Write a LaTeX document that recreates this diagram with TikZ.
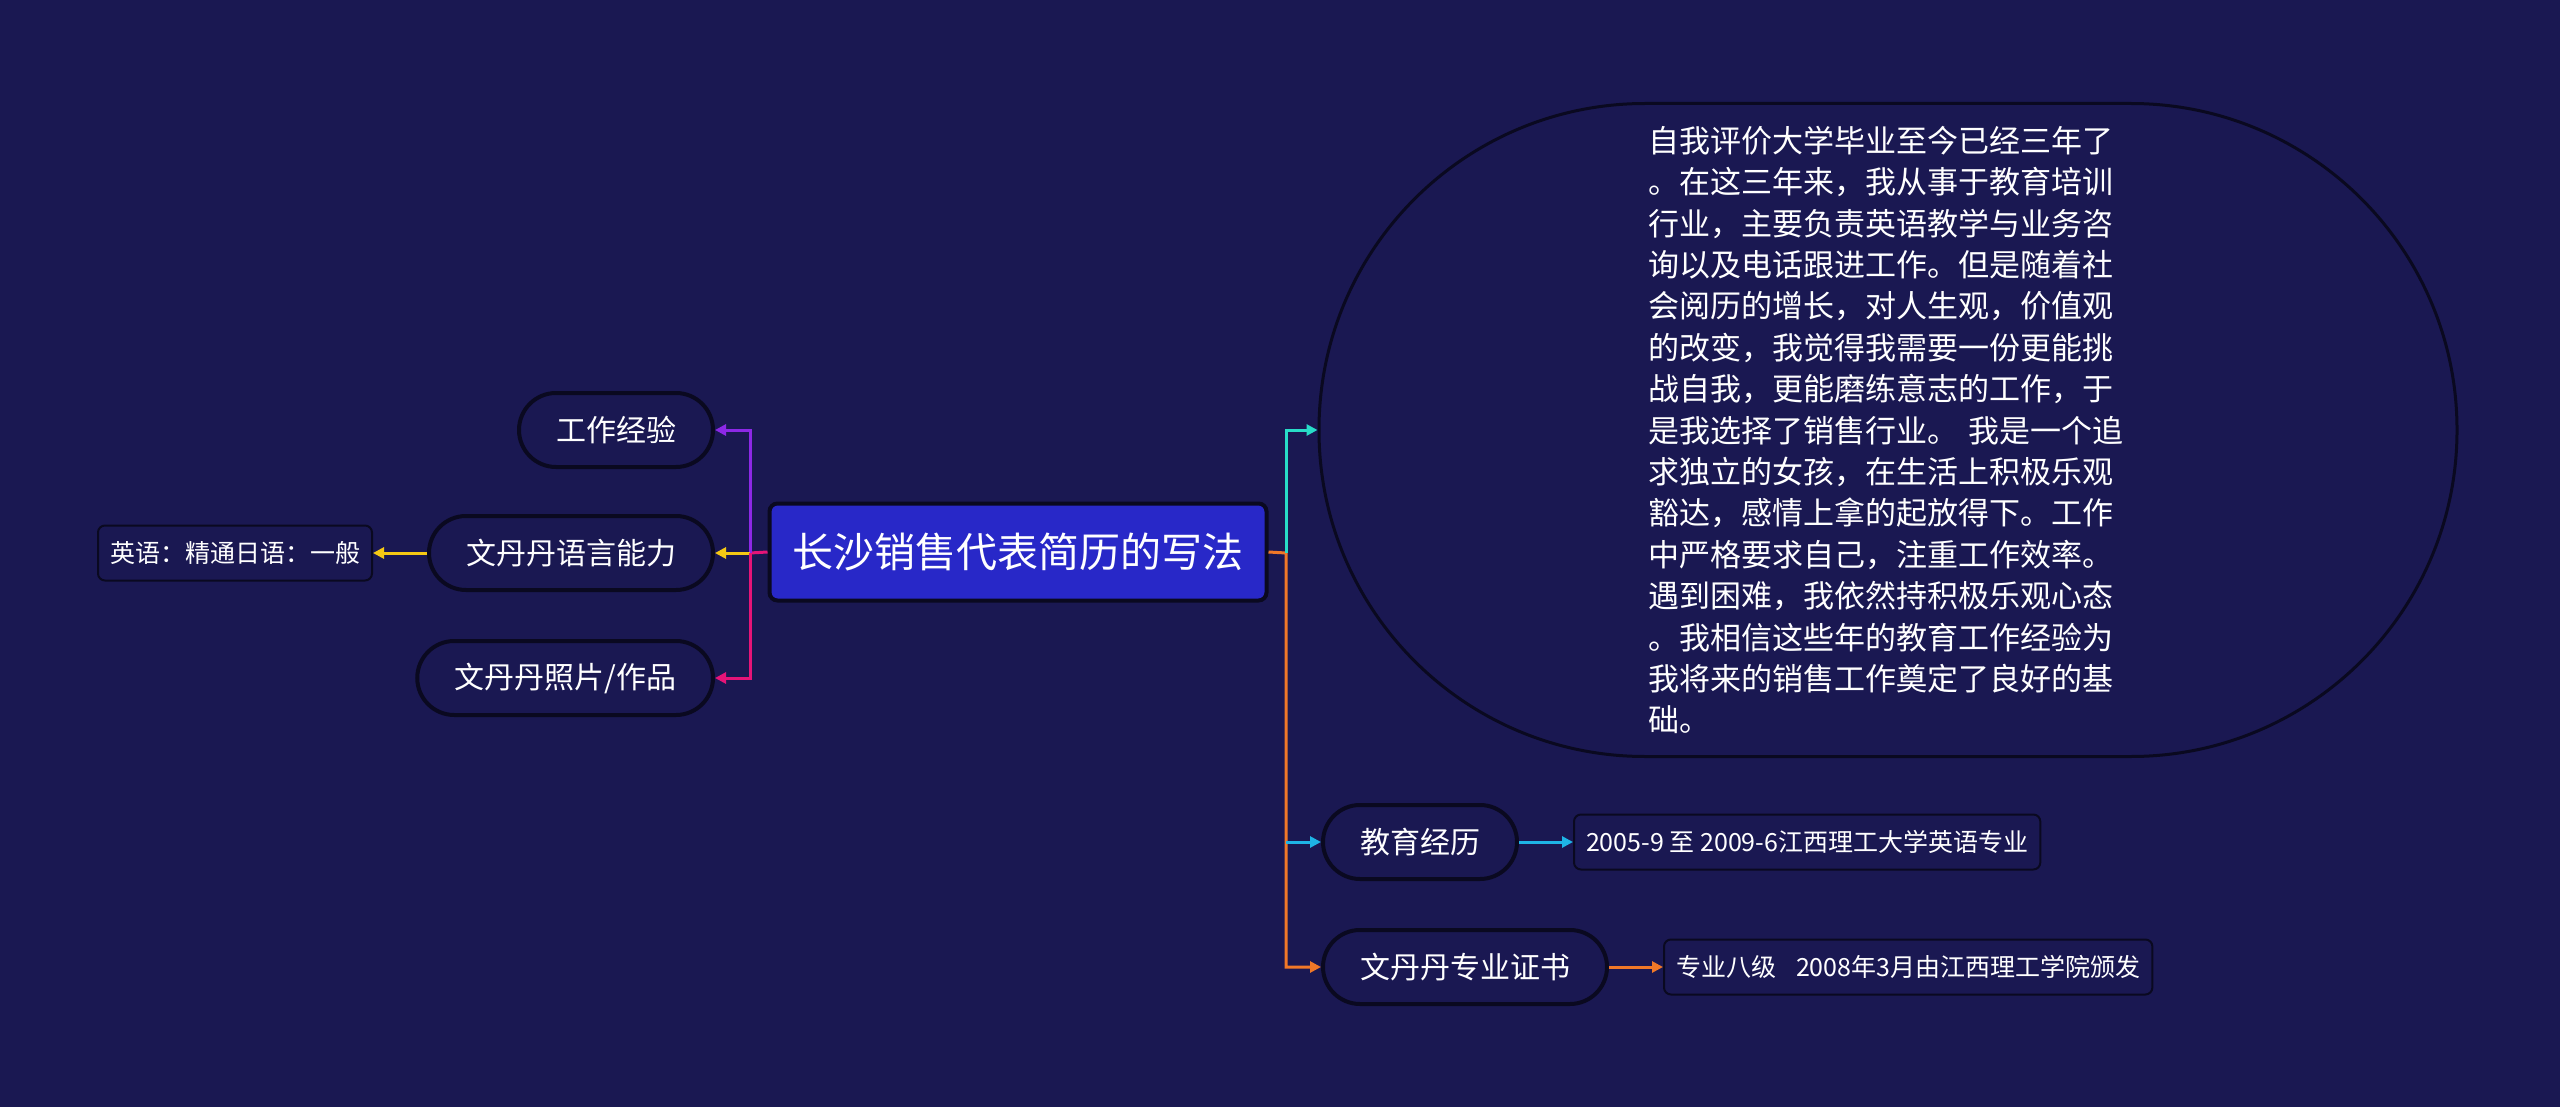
\documentclass[tikz,border=0pt]{standalone}
\usepackage{fontspec}
\setmainfont{Noto Sans CJK SC}
\usetikzlibrary{positioning,arrows.meta}
\definecolor{fond}{RGB}{26,24,82}
\definecolor{contour}{RGB}{10,9,32}
\definecolor{bleuroi}{RGB}{40,40,200}
\definecolor{violet}{RGB}{140,40,230}
\definecolor{jaune}{RGB}{245,200,20}
\definecolor{rose}{RGB}{230,20,120}
\definecolor{turquoise}{RGB}{40,220,200}
\definecolor{ciel}{RGB}{30,180,230}
\definecolor{orange}{RGB}{240,120,40}
\begin{document}
\begin{tikzpicture}[x=1pt,y=-1pt,
    racine/.style={draw=contour,line width=4pt,fill=bleuroi,rounded corners=8pt,
      text=white,inner xsep=23pt,minimum height=97pt,font=\fontsize{41}{41}\selectfont},
    branche/.style={draw=contour,line width=4pt,fill=fond,rounded corners=37pt,
      text=white,inner xsep=37pt,minimum height=74pt,font=\fontsize{30}{30}\selectfont},
    feuille/.style={draw=contour,line width=2pt,fill=fond,rounded corners=7pt,
      text=white,inner xsep=12pt,minimum height=55pt,font=\fontsize{25}{25}\selectfont},
    lien/.style={line width=3pt,-{Triangle[length=11pt,width=11pt]}},
    trait/.style={line width=3pt}]
  \fill[fond] (0,0) rectangle (2560,1107);
  \useasboundingbox (0,0) rectangle (2560,1107);
  % noeud central
  \node[racine] (titre) at (1018,552) {长沙销售代表简历的写法};
  % gauche
  \node[branche,anchor=east] (travail) at (715,430) {工作经验};
  \node[branche,anchor=east] (langue) at (715,553) {文丹丹语言能力};
  \node[branche,anchor=east] (photo) at (715,678) {文丹丹照片/作品};
  \node[feuille,left=54pt of langue] (anglais) {英语：精通日语：一般};
  % droite
  \node[draw=contour,line width=3pt,fill=fond,rounded corners=326pt,
    minimum width=1138pt,minimum height=653pt,text=white,text width=480pt,align=left,
    font=\fontsize{31}{41.4}\selectfont] (bilan) at (1888,430)
    {自我评价大学毕业至今已经三年了\\
     。在这三年来，我从事于教育培训\\
     行业，主要负责英语教学与业务咨\\
     询以及电话跟进工作。但是随着社\\
     会阅历的增长，对人生观，价值观\\
     的改变，我觉得我需要一份更能挑\\
     战自我，更能磨练意志的工作，于\\
     是我选择了销售行业。 我是一个追\\
     求独立的女孩，在生活上积极乐观\\
     豁达，感情上拿的起放得下。工作\\
     中严格要求自己，注重工作效率。\\
     遇到困难，我依然持积极乐观心态\\
     。我相信这些年的教育工作经验为\\
     我将来的销售工作奠定了良好的基\\
     础。};
  \node[branche,anchor=west] (etudes) at (1321,842) {教育经历};
  \node[branche,anchor=west] (diplome) at (1321,967) {文丹丹专业证书};
  \node[feuille,right=54pt of etudes] (dates) {2005-9 至 2009-6江西理工大学英语专业};
  \node[feuille,right=54pt of diplome] (niveau) {专业八级\hspace{0.8em}2008年3月由江西理工学院颁发};
  % liens
  \coordinate (gauche) at (750,553);
  \coordinate (droite) at (1286,553);
  \draw[trait,rose] (titre.west) -- (gauche);
  \draw[lien,violet] (gauche) |- (travail.east);
  \draw[lien,jaune] (gauche) -- (langue.east);
  \draw[lien,rose] (gauche) |- (photo.east);
  \draw[lien,jaune] (langue.west) -- (anglais.east);
  \draw[lien,orange] (titre.east) -- (droite) |- (diplome.west);
  \draw[lien,turquoise] (droite) |- (bilan.west);
  \draw[lien,ciel] (droite |- etudes.west) -- (etudes.west);
  \draw[lien,ciel] (etudes.east) -- (dates.west);
  \draw[lien,orange] (diplome.east) -- (niveau.west);
\end{tikzpicture}
\end{document}
